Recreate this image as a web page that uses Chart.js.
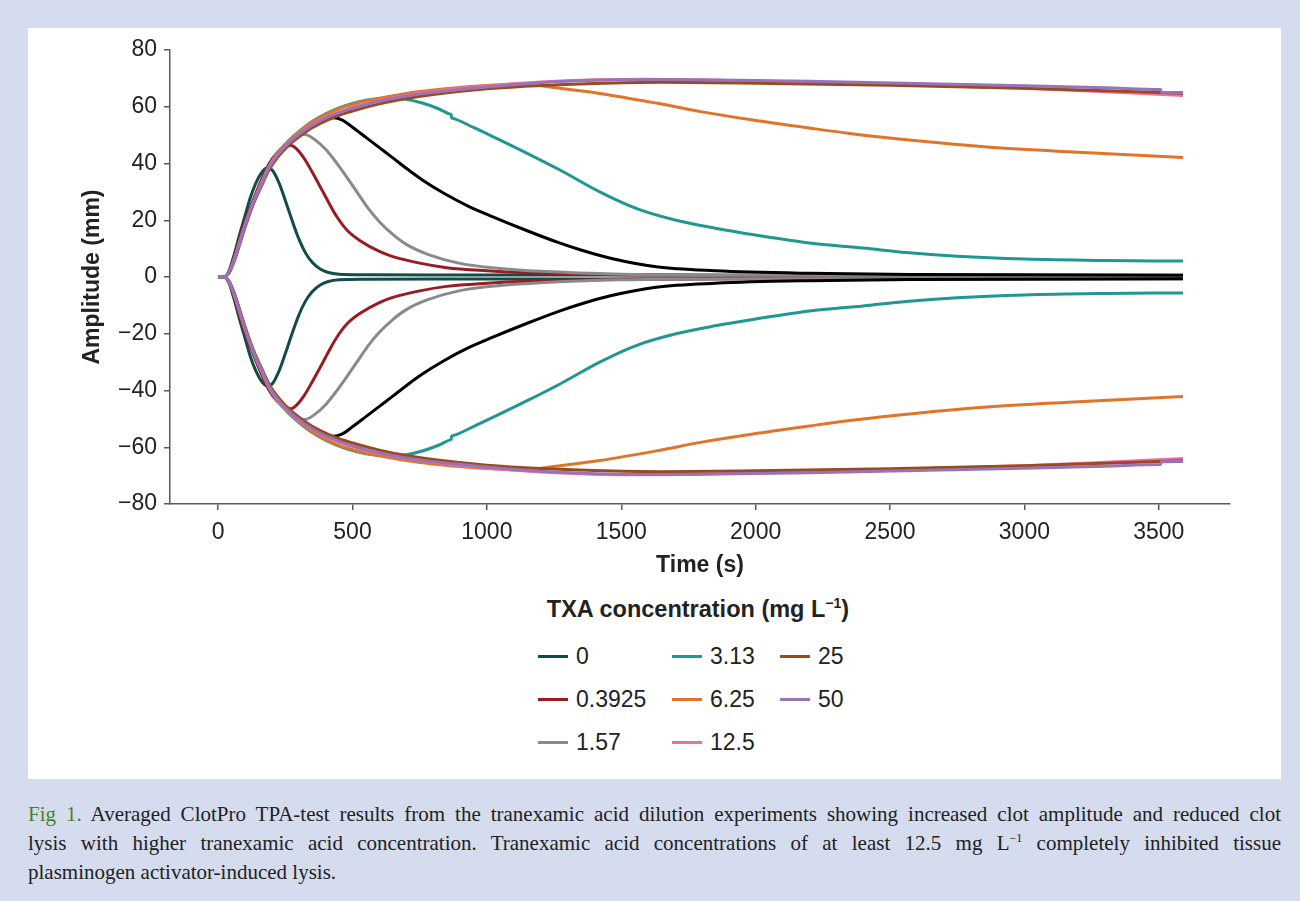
<!DOCTYPE html>
<html>
<head>
<meta charset="utf-8">
<script src="https://cdn.jsdelivr.net/npm/chart.js@4.4.1/dist/chart.umd.min.js"></script>
<style>
  body { margin:0; width:1300px; height:901px; background:#d4dcee; position:relative; font-family:"Liberation Sans", Arial, sans-serif; }
  #panel { position:absolute; left:28px; top:28px; width:1253px; height:751px; background:#fff; }
  #chartBox { position:absolute; left:0; top:0; width:1253px; height:560px; }
  #legendTitle { position:absolute; left:0; width:1253px; top:568px; text-align:center; font-weight:bold; font-size:23.5px; color:#222; padding-left:87px; box-sizing:border-box; }
  #legendTitle sup { font-size:14px; line-height:0; }
  #legend { position:absolute; left:510px; top:607px; display:grid; grid-auto-flow:column; grid-template-rows:repeat(3, 43px); grid-template-columns:134px 108px 120px; }
  .item { display:flex; align-items:center; font-size:23px; color:#222; }
  .item span.sw { display:inline-block; width:30px; height:3px; margin-right:8px; }
  #caption { position:absolute; left:28px; top:800px; width:1253px; font-family:"Liberation Serif", "DejaVu Serif", serif; font-size:21px; line-height:29px; color:#222; }
  #caption .ln { display:block; text-align:justify; text-align-last:justify; white-space:nowrap; }
  #caption .ln.last { text-align-last:left; }
  #caption sup { font-size:12px; line-height:0; }
  #caption b { color:#4d7f2c; font-weight:normal; }
</style>
</head>
<body>
<div id="panel">
  <div id="chartBox"><canvas id="myChart" width="1253" height="560"></canvas></div>
  <div id="legendTitle">TXA concentration (mg L<sup>−1</sup>)</div>
  <div id="legend"></div>
</div>
<div id="caption">
  <span class="ln"><b>Fig 1.</b> Averaged ClotPro TPA-test results from the tranexamic acid dilution experiments showing increased clot amplitude and reduced clot</span>
  <span class="ln">lysis with higher tranexamic acid concentration. Tranexamic acid concentrations of at least 12.5 mg L<sup>−1</sup> completely inhibited tissue</span>
  <span class="ln last">plasminogen activator-induced lysis.</span>
</div>
<script>
// tick values
var xTicks = [0, 500, 1000, 1500, 2000, 2500, 3000, 3500];
var yTicks = [-80, -60, -40, -20, 0, 20, 40, 60, 80];

// TXA 0 mg/L
var t0 = [0, 20, 40, 60, 80, 100, 120, 140, 160, 180, 200, 225, 250, 275, 300, 325, 350, 380, 410, 450, 550, 800, 1500, 2500, 3590];
var a0 = [0, 0, 2, 8, 15, 21.5, 28, 33, 36.5, 38.3, 37.8, 33.5, 27, 20, 13.5, 8.5, 5.2, 2.8, 1.6, 1.0, 0.8, 0.7, 0.7, 0.6, 0.6];
// 0.3925
var t1 = [0, 20, 40, 60, 80, 100, 130, 160, 190, 220, 250, 270, 290, 320, 350, 380, 410, 440, 480, 530, 600, 650, 750, 850, 1000, 1150, 1500, 2000, 3590];
var a1 = [0, 0, 1.8, 7, 13.5, 19.5, 27, 34, 40, 43.8, 45.8, 46.4, 45.3, 41.8, 37, 31.8, 26.5, 21.5, 16.5, 12.7, 9, 7.2, 4.9, 3.3, 2.2, 1.5, 0.8, 0.5, 0.4];
// 1.57
var t2 = [0, 20, 40, 60, 80, 100, 130, 160, 190, 220, 250, 280, 310, 330, 360, 400, 440, 480, 520, 560, 600, 650, 700, 780, 900, 1050, 1200, 1500, 2000, 3590];
var a2 = [0, 0, 1.6, 6.5, 12.5, 18.5, 26, 32.5, 38.5, 42.8, 46.3, 48.8, 50.3, 50.1, 48.4, 45, 40.3, 35, 29.5, 24, 19.5, 15, 11.5, 8, 4.8, 3, 2, 1, 0.6, 0.5];
// black trace, no legend entry
var tK = [0, 20, 40, 60, 80, 100, 130, 160, 190, 220, 260, 300, 350, 400, 430, 460, 500, 550, 600, 650, 700, 760, 840, 930, 1020, 1150, 1270, 1350, 1460, 1630, 1850, 2200, 2600, 3590];
var aK = [0, 0, 1.5, 6, 12, 18, 26, 32.5, 38.5, 43, 47, 50.2, 53.5, 55.8, 56.1, 55.4, 52.8, 49.2, 45.6, 42, 38.3, 34.2, 29.5, 25, 21.3, 16.3, 12, 9.5, 6.6, 3.6, 2.2, 1.3, 0.9, 0.6];
// 3.13 (small step near 870 s)
var t3 = [0, 20, 40, 60, 80, 100, 130, 160, 190, 220, 260, 300, 350, 400, 450, 500, 550, 600, 650, 700, 760, 820, 866, 867, 869, 870, 950, 1024, 1150, 1272, 1420, 1560, 1700, 1850, 2000, 2200, 2400, 2560, 2750, 3000, 3300, 3590];
var a3 = [0, 0, 1.5, 6, 12, 18.2, 26.2, 33, 39.2, 43.6, 47.8, 51.2, 54.8, 57.5, 59.6, 61.2, 62.3, 62.9, 63.0, 62.6, 61.3, 59.3, 57.3, 57.25, 56.05, 56.0, 52.7, 49.4, 43.6, 37.7, 30, 24, 20.1, 17.2, 14.8, 12, 10.2, 8.6, 7.3, 6.3, 5.8, 5.6];
// 6.25
var t4 = [0, 20, 40, 60, 80, 100, 130, 160, 190, 220, 260, 300, 350, 400, 450, 500, 550, 600, 700, 800, 900, 1000, 1130, 1250, 1420, 1635, 1800, 1990, 2200, 2350, 2600, 2850, 3200, 3590];
var a4 = [0, 0, 1.5, 6, 12, 18, 26, 32.8, 39, 43.4, 47.6, 51, 54.6, 57.2, 59.3, 60.8, 62, 63, 64.7, 65.9, 66.8, 67.5, 68, 66.8, 64.7, 61.2, 58.2, 55.3, 52.5, 50.6, 48, 45.9, 44, 42.1];
// 12.5
var t5 = [0, 20, 40, 60, 80, 100, 130, 160, 190, 220, 260, 300, 350, 400, 450, 500, 550, 600, 700, 800, 900, 1000, 1200, 1400, 1600, 1800, 2200, 2600, 3000, 3300, 3590];
var a5 = [0, 0, 1.5, 6, 12, 18, 26, 32.5, 38.8, 43, 47.2, 50.4, 53.7, 56.2, 58.1, 59.7, 61, 62.2, 64, 65.3, 66.4, 67.3, 68.7, 69.5, 69.7, 69.4, 68.6, 67.6, 66.5, 65.3, 64.0];
// 25
var t6 = [0, 20, 40, 60, 80, 100, 130, 160, 190, 220, 260, 300, 350, 400, 450, 500, 600, 700, 800, 1000, 1200, 1400, 1650, 2000, 2500, 3000, 3590];
var a6 = [0, 0, 1.4, 5.6, 11.4, 17.4, 25.4, 31.8, 37.8, 42, 46.2, 49.3, 52.6, 55, 57, 58.5, 61, 62.9, 64.3, 66.3, 67.5, 68.2, 68.6, 68.3, 67.6, 66.5, 64.8];
// 50 (step near 3508 s)
var t7 = [0, 20, 40, 60, 80, 100, 130, 160, 190, 220, 260, 300, 350, 400, 450, 500, 550, 600, 700, 800, 900, 1000, 1200, 1400, 1600, 1800, 2200, 2600, 3000, 3300, 3506, 3507, 3509, 3510, 3590];
var a7 = [0, 0, 1.5, 6, 12, 18, 26, 32.3, 38.5, 42.8, 47, 50.2, 53.5, 56, 57.9, 59.5, 60.8, 62, 63.8, 65.1, 66.1, 67, 68.5, 69.3, 69.6, 69.5, 69, 68.2, 67.4, 66.7, 66.1, 66.1, 65.1, 65.1, 65];

var labels = ["0", "0.3925", "1.57", "", "3.13", "6.25", "12.5", "25", "50"];
var times = [t0, t1, t2, tK, t3, t4, t5, t6, t7];
var amps = [a0, a1, a2, aK, a3, a4, a5, a6, a7];
var colors = ["#124c49", "#9a1b22", "#8a8a8a", "#000000", "#1f9892", "#e2742a", "#ef6ea8", "#9a4a1c", "#9a72b8"];

var datasets = [];
for (var i = 0; i < labels.length; i++) {
    var up = [], down = [];
    for (var j = 0; j < times[i].length; j++) {
        up.push({x: times[i][j], y: amps[i][j]});
        down.push({x: times[i][j], y: -amps[i][j]});
    }
    // later series on top, like excel
    [up, down].forEach(function (d) {
        datasets.push({
            label: labels[i], data: d, borderColor: colors[i], borderWidth: 3,
            pointRadius: 0, fill: false, cubicInterpolationMode: "monotone", order: labels.length - i
        });
    });
}

// legend (excel puts it column by column)
var leg = document.getElementById("legend");
for (var i = 0; i < labels.length; i++) {
    if (labels[i] === "") continue;
    var el = document.createElement("div");
    el.className = "item";
    el.innerHTML = '<span class="sw" style="background:' + colors[i] + '"></span>' + labels[i];
    leg.appendChild(el);
}

var tickFont = {family: "Liberation Sans", size: 23};
var titleFont = {family: "Liberation Sans", size: 23, weight: "bold"};
var axisCol = "#5a5a5a";

new Chart("myChart", {
    type: "line",
    data: {datasets: datasets},
    options: {
        responsive: false,
        animation: false,
        layout: {padding: {top: 22, right: 51, bottom: 0, left: 0}},
        plugins: {legend: {display: false}, tooltip: {enabled: false}},
        scales: {
            x: {
                type: "linear", min: -179, max: 3765,
                afterBuildTicks: function (s) { s.ticks = xTicks.map(function (v) { return {value: v}; }); },
                afterFit: function (s) { s.height = 84; },
                grid: {drawOnChartArea: false, drawTicks: true, tickLength: 6, color: axisCol, lineWidth: 1.5},
                border: {color: axisCol, width: 1.5},
                ticks: {font: tickFont, color: "#222", padding: 9, maxRotation: 0,
                    callback: function (v) { return String(v); }},
                title: {display: true, text: "Time (s)", font: titleFont, color: "#222", padding: {top: 0, bottom: 9}}
            },
            y: {
                min: -80, max: 80,
                afterBuildTicks: function (s) { s.ticks = yTicks.map(function (v) { return {value: v}; }); },
                afterFit: function (s) { s.width = 142; },
                grid: {drawOnChartArea: false, drawTicks: true, tickLength: 6, color: axisCol, lineWidth: 1.5},
                border: {color: axisCol, width: 1.5},
                ticks: {
                    font: tickFont, color: "#222", padding: 7,
                    callback: function (v) { return v < 0 ? "\u2212" + Math.abs(v) : String(v); }
                },
                title: {display: true, text: "Amplitude (mm)", font: titleFont, color: "#222", padding: {top: 51, bottom: 0}}
            }
        }
    }
});
</script>
</body>
</html>
